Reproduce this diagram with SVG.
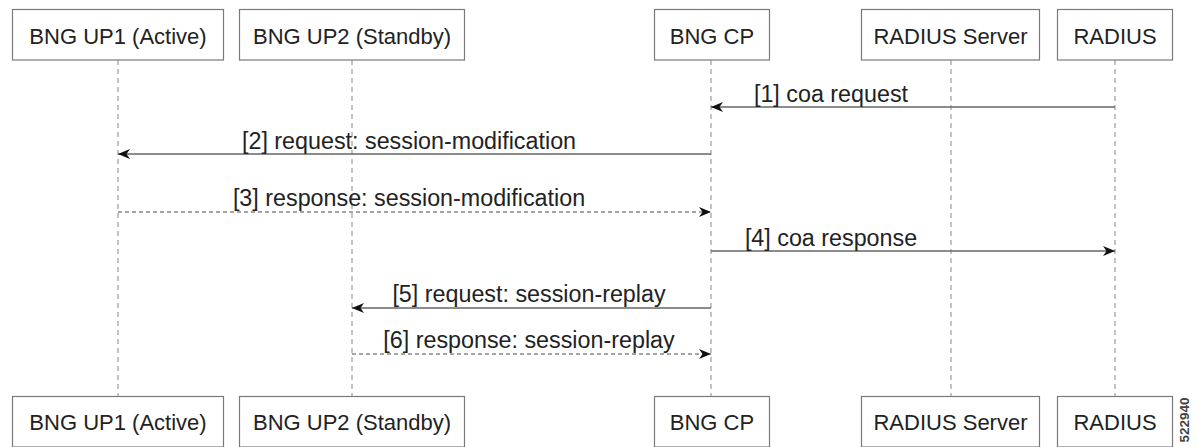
<svg xmlns="http://www.w3.org/2000/svg" width="1197" height="447" viewBox="0 0 1197 447">
<style>
.box{fill:#fff;stroke:#7a7a7a;stroke-width:1.2}
.nl{font-family:"Liberation Sans",Arial,sans-serif;font-size:22px;fill:#222;text-anchor:middle}
.life{stroke:#888;stroke-width:1;stroke-dasharray:5 4;fill:none}
.msg{stroke:#666;stroke-width:1.3;fill:none}
.dash{stroke-dasharray:4 3;stroke:#888}
.ml{font-family:"Liberation Sans",Arial,sans-serif;font-size:23.3px;fill:#222;text-anchor:middle}
.fig{font-family:"Liberation Sans",Arial,sans-serif;font-size:13.5px;font-weight:bold;fill:#444;text-anchor:middle}
</style>
<defs>
<marker id="ah" viewBox="0 0 12 10" refX="12" refY="5" markerWidth="12" markerHeight="10" orient="auto" markerUnits="userSpaceOnUse">
<path d="M0,0 L12,5 L0,10 L3.5,5 z" fill="#111"/>
</marker>
</defs>
<g id="lifelines">
<line class="life" x1="118" y1="60" x2="118" y2="396"/>
<line class="life" x1="352" y1="60" x2="352" y2="396"/>
<line class="life" x1="711" y1="60" x2="711" y2="396"/>
<line class="life" x1="951" y1="60" x2="951" y2="396"/>
<line class="life" x1="1115" y1="60" x2="1115" y2="396"/>
</g>
<g id="node-up1-top"><rect class="box" x="12.5" y="9.5" width="211" height="50.5"/><text class="nl" x="118" y="44">BNG UP1 (Active)</text></g>
<g id="node-up2-top"><rect class="box" x="239.5" y="9.5" width="225" height="50.5"/><text class="nl" x="352" y="44">BNG UP2 (Standby)</text></g>
<g id="node-cp-top"><rect class="box" x="654.5" y="9.5" width="115" height="50.5"/><text class="nl" x="712" y="44">BNG CP</text></g>
<g id="node-rs-top"><rect class="box" x="861.5" y="9.5" width="178" height="50.5"/><text class="nl" x="950.5" y="44">RADIUS Server</text></g>
<g id="node-r-top"><rect class="box" x="1057.5" y="9.5" width="115" height="50.5"/><text class="nl" x="1115" y="44">RADIUS</text></g>
<g id="node-up1-bot"><rect class="box" x="12.5" y="396.5" width="211" height="50.5"/><text class="nl" x="118" y="430">BNG UP1 (Active)</text></g>
<g id="node-up2-bot"><rect class="box" x="239.5" y="396.5" width="225" height="50.5"/><text class="nl" x="352" y="430">BNG UP2 (Standby)</text></g>
<g id="node-cp-bot"><rect class="box" x="654.5" y="396.5" width="115" height="50.5"/><text class="nl" x="712" y="430">BNG CP</text></g>
<g id="node-rs-bot"><rect class="box" x="861.5" y="396.5" width="178" height="50.5"/><text class="nl" x="950.5" y="430">RADIUS Server</text></g>
<g id="node-r-bot"><rect class="box" x="1057.5" y="396.5" width="115" height="50.5"/><text class="nl" x="1115" y="430">RADIUS</text></g>
<g id="connectors">
<line class="msg" x1="1115" y1="107" x2="711" y2="107" marker-end="url(#ah)"/>
<text class="ml" x="831" y="102">[1] coa request</text>
<line class="msg" x1="711" y1="154" x2="118" y2="154" marker-end="url(#ah)"/>
<text class="ml" x="409" y="149">[2] request: session-modification</text>
<line class="msg dash" x1="118" y1="212" x2="711" y2="212" marker-end="url(#ah)"/>
<text class="ml" x="409" y="206">[3] response: session-modification</text>
<line class="msg" x1="711" y1="251" x2="1115" y2="251" marker-end="url(#ah)"/>
<text class="ml" x="831" y="246">[4] coa response</text>
<line class="msg" x1="711" y1="308" x2="352" y2="308" marker-end="url(#ah)"/>
<text class="ml" x="529" y="302">[5] request: session-replay</text>
<line class="msg dash" x1="352" y1="354" x2="711" y2="354" marker-end="url(#ah)"/>
<text class="ml" x="529" y="348">[6] response: session-replay</text>
</g>
<text class="fig" transform="translate(1189,420) rotate(-90)">522940</text>
</svg>
